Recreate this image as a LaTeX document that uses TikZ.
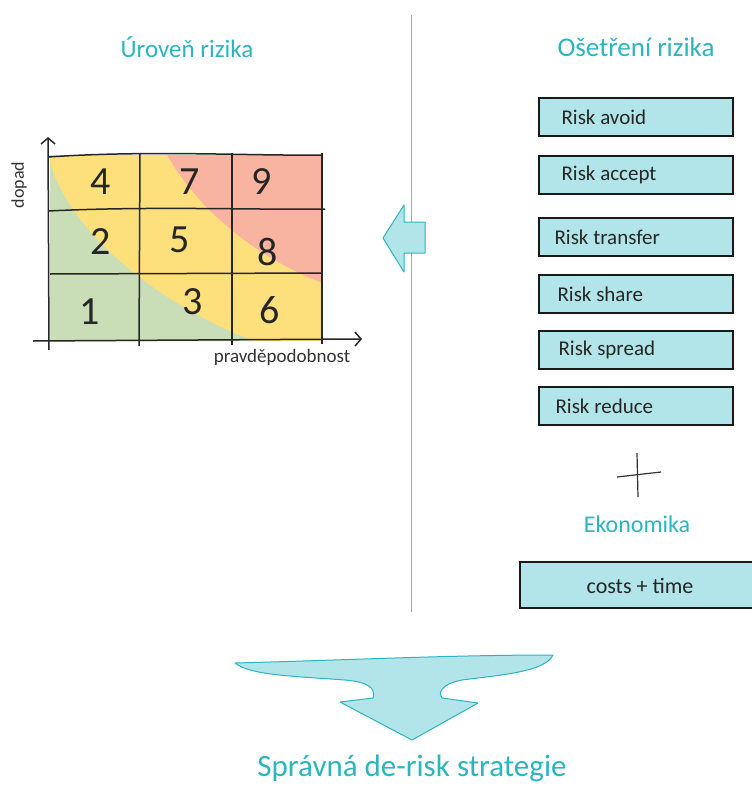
\documentclass[tikz,border=0pt]{standalone}
\usepackage{fontspec}
\setmainfont{Carlito}
\usetikzlibrary{arrows.meta}
\definecolor{teal1}{HTML}{2BB5C0}
\definecolor{boxfill}{HTML}{B2E5E9}
\definecolor{gr}{HTML}{C9DEB6}
\definecolor{ye}{HTML}{FDE07C}
\definecolor{rd}{HTML}{F9B3A1}
\definecolor{line}{HTML}{AAAAAA}
\tikzset{
  title/.style={text=teal1, font=\fontsize{25}{28}\selectfont},
  riskbox/.style={draw=black!90, line width=1.6pt, fill=boxfill, minimum width=194pt, minimum height=38pt, anchor=north west, inner sep=0pt},
  boxtext/.style={font=\fontsize{21}{24}\selectfont, text=black!85, anchor=west},
  digit/.style={font=\fontsize{40}{44}\selectfont, text=black!85},
  gridline/.style={line width=1.5pt, black!85},
  tealshape/.style={fill=boxfill, draw=teal1, line width=1pt, line join=round},
}
\begin{document}
\begin{tikzpicture}[x=1pt,y=-1pt]
\useasboundingbox (0,0) rectangle (752,787);
% divider
\draw[line, line width=1pt] (411,15) -- (411,612);
% titles
\node[title] (t1) at (187,47) {Úroveň rizika};
\node[title, font=\fontsize{27}{30}\selectfont] (t2) at (636,47) {Ošetření rizika};
% risk matrix colours
\begin{scope}
\clip (50,155) rectangle (322,341);
\fill[rd] (50,155) rectangle (322,341);
\fill[ye] (50,155) -- (167,155) .. controls (195,205) and (250,255) .. (322,283) -- (322,341) -- (50,341) -- cycle;
\fill[gr] (50,163) .. controls (70,230) and (150,300) .. (253,341) -- (50,341) -- cycle;
\end{scope}
% grid
\draw[gridline] (48,157) .. controls (150,150) and (250,156) .. (323,155);
\draw[gridline] (48,211) .. controls (150,206) and (250,210) .. (325,209);
\draw[gridline] (50,274) -- (322,273);
\draw[gridline] (140,154) -- (139,346);
\draw[gridline] (232,153) -- (232,345);
\draw[gridline] (322,153) -- (322,344);
% axes
\coordinate (ytop) at (48,137);
\coordinate (ybot) at (49,350);
\coordinate (xl) at (33,341);
\coordinate (xr) at (362,339);
\draw[gridline, -{Straight Barb[length=6pt,width=14pt]}] (ybot) -- (ytop);
\draw[gridline, -{Straight Barb[length=6pt,width=14pt]}] (xl) -- (xr);
\node[font=\fontsize{18}{20}\selectfont, text=black!80, rotate=90] (ylab) at (19,185) {dopad};
\node[font=\fontsize{19}{22}\selectfont, text=black!80] (xlab) at (282,357) {pravděpodobnost};
% numbers
\node[digit] (n4) at (101,182) {4};
\node[digit] (n7) at (190,182) {7};
\node[digit] (n9) at (262,182) {9};
\node[digit] (n2) at (101,242) {2};
\node[digit] (n5) at (180,240) {5};
\node[digit] (n8) at (268,252) {8};
\node[digit] (n1) at (90,312) {1};
\node[digit] (n3) at (193,302) {3};
\node[digit] (n6) at (270,310) {6};
% left arrow
\draw[tealshape] (383,238) -- (404,205) -- (404,222) -- (425,222) -- (425,253) -- (404,253) -- (404,272) -- cycle;
% risk boxes
\node[riskbox] (b1) at (538,97) {};
\node[boxtext] at ([xshift=20pt]b1.west) {Risk avoid};
\node[riskbox] (b2) at (538,155) {};
\node[boxtext] at ([xshift=20pt]b2.west) {Risk accept};
\node[riskbox] (b3) at (538,217) {};
\node[boxtext] at ([xshift=13pt]b3.west) {Risk transfer};
\node[riskbox] (b4) at (538,274) {};
\node[boxtext] at ([xshift=16pt]b4.west) {Risk share};
\node[riskbox] (b5) at (538,330) {};
\node[boxtext] at ([xshift=17pt]b5.west) {Risk spread};
\node[riskbox] (b6) at (538,386) {};
\node[boxtext] at ([xshift=14pt]b6.west) {Risk reduce};
% plus
\draw[black!80, line width=1.2pt] (637,453) -- (638,497);
\draw[black!80, line width=1.2pt] (617,477) -- (661,472);
\node[title, font=\fontsize{24}{27}\selectfont] (eko) at (637,524) {Ekonomika};
\node[riskbox, minimum width=236pt, minimum height=46pt] (b7) at (519,561) {};
\node[font=\fontsize{22}{25}\selectfont, text=black!85] at (640,586) {costs + time};
% big arrow
\draw[tealshape] (235,663) .. controls (350,660) and (450,655) .. (553,655)
  .. controls (545,672) and (500,675) .. (462,680)
  .. controls (440,684) and (438,694) .. (442,698)
  -- (478,703) -- (412,740) -- (340,702) -- (373,698)
  .. controls (376,688) and (368,682) .. (345,680)
  .. controls (290,676) and (250,675) .. (235,663) -- cycle;
\node[text=teal1, font=\fontsize{31}{35}\selectfont] (res) at (412,768) {Správná de-risk strategie};
\end{tikzpicture}
\end{document}
